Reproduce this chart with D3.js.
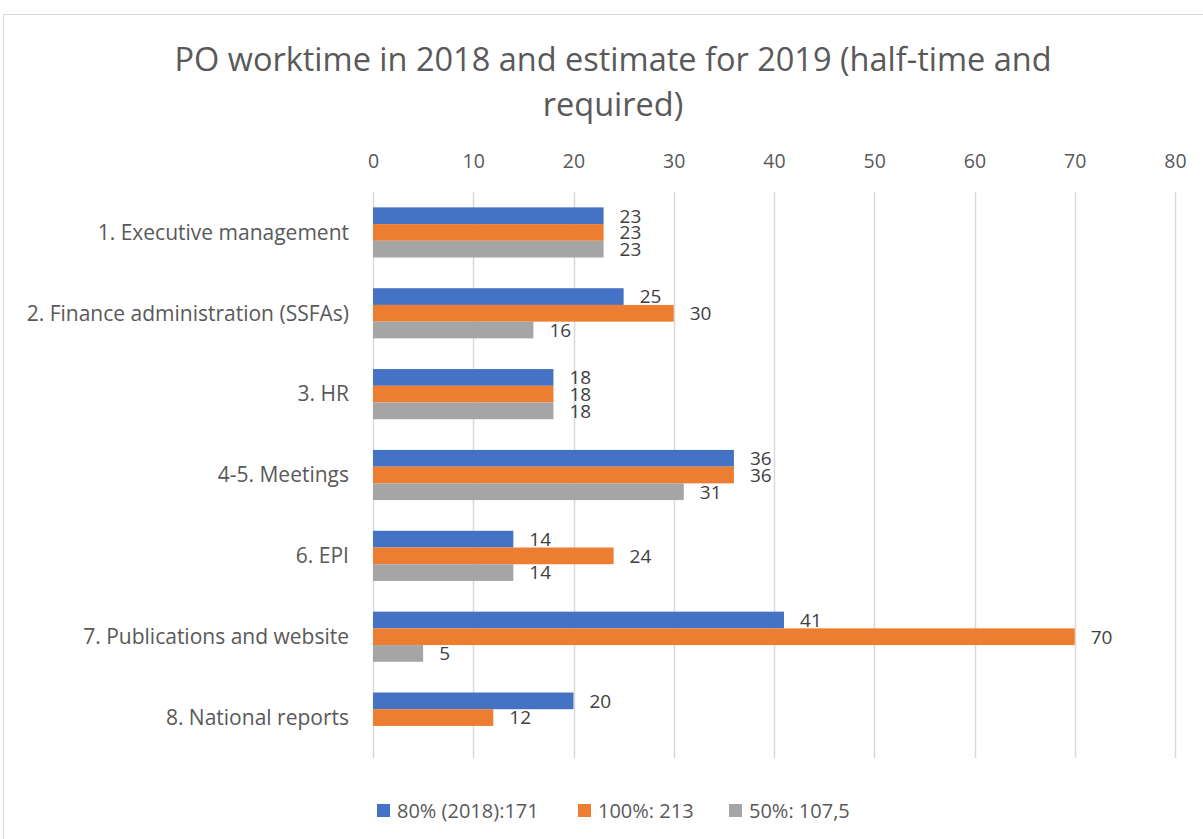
<!DOCTYPE html>
<html><head><meta charset="utf-8">
<script src="https://cdn.jsdelivr.net/npm/d3@7"></script>
<style>body{margin:0;background:#fff}svg{display:block}</style>
</head><body>
<svg id="c" width="1203" height="839"></svg>
<script>
const categories = ["1. Executive management","2. Finance administration (SSFAs)","3. HR","4-5. Meetings","6. EPI","7. Publications and website","8. National reports"];
const series = ["80% (2018):171","100%: 213","50%: 107,5"];
const values80 = [23,25,18,36,14,41,20];
const values100 = [23,30,18,36,24,70,12];
const values50 = [23,16,18,31,14,5,null];
const ticks = [0,10,20,30,40,50,60,70,80];
const colors = ["#4472C4","#ED7D31","#A5A5A5"];
const title = ["PO worktime in 2018 and estimate for 2019 (half-time and","required)"];

const font = "Open Sans, sans-serif";
const svg = d3.select("#c");
svg.append("rect").attr("x",3.5).attr("y",14.5).attr("width",1210).attr("height",840)
  .attr("fill","#fff").attr("stroke","#D9D9D9");

const x = d3.scaleLinear().domain([0,80]).range([373,1175]);
const y = d3.scaleBand().domain(categories).range([192,758]).paddingInner(0.38).paddingOuter(0.19);
const ys = d3.scaleBand().domain(series).range([0,y.bandwidth()]);

// title
svg.append("g").selectAll("text").data(title).join("text")
  .attr("x",613).attr("y",(d,i)=>60+i*45).attr("dy","0.35em").attr("text-anchor","middle")
  .attr("font-family",font).attr("font-size",32.5).attr("fill","#595959").text(d=>d);

// gridlines
svg.append("g").selectAll("line").data(ticks).join("line")
  .attr("x1",d=>Math.round(x(d))+0.5).attr("x2",d=>Math.round(x(d))+0.5)
  .attr("y1",192).attr("y2",758).attr("stroke","#D9D9D9").attr("stroke-width",1.5);

// top axis labels
const ax = svg.append("g").attr("transform","translate(0,161)").call(d3.axisTop(x).tickValues(ticks).tickSize(0).tickPadding(0));
ax.select(".domain").remove();
ax.selectAll("text").attr("dy","0.36em").attr("font-family",font).attr("font-size",19.5).attr("fill","#595959");

// category labels
svg.append("g").selectAll("text").data(categories).join("text")
  .attr("x",349).attr("y",d=>y(d)+y.bandwidth()/2).attr("dy","0.35em").attr("text-anchor","end")
  .attr("font-family",font).attr("font-size",21).attr("fill","#595959").text(d=>d);

const data = [values80,values100,values50];
const groups = svg.append("g").selectAll("g").data(data).join("g")
  .attr("fill",(d,i)=>colors[i]);
groups.each(function(vals,si){
  const g = d3.select(this);
  const rows = categories.map((c,ci)=>({c,v:vals[ci]})).filter(d=>d.v!=null);
  g.selectAll("rect").data(rows).join("rect")
    .attr("x",x(0)).attr("y",d=>y(d.c)+ys(series[si]))
    .attr("width",d=>x(d.v)-x(0)).attr("height",ys.bandwidth());
  g.selectAll("text").data(rows).join("text")
    .attr("x",d=>x(d.v)+16).attr("y",d=>y(d.c)+ys(series[si])+ys.bandwidth()/2).attr("dy","0.36em")
    .attr("font-family",font).attr("font-size",19).attr("fill","#404040").text(d=>d.v);
});

// legend
const legX = [377,578,729];
const lg = svg.append("g").selectAll("g").data(series).join("g")
  .attr("transform",(d,i)=>`translate(${legX[i]},804)`);
lg.append("rect").attr("width",13).attr("height",13).attr("fill",(d,i)=>colors[i]);
lg.append("text").attr("x",20).attr("y",6.5).attr("dy","0.36em")
  .attr("font-family",font).attr("font-size",20).attr("fill","#595959").text(d=>d);
</script>
</body></html>
